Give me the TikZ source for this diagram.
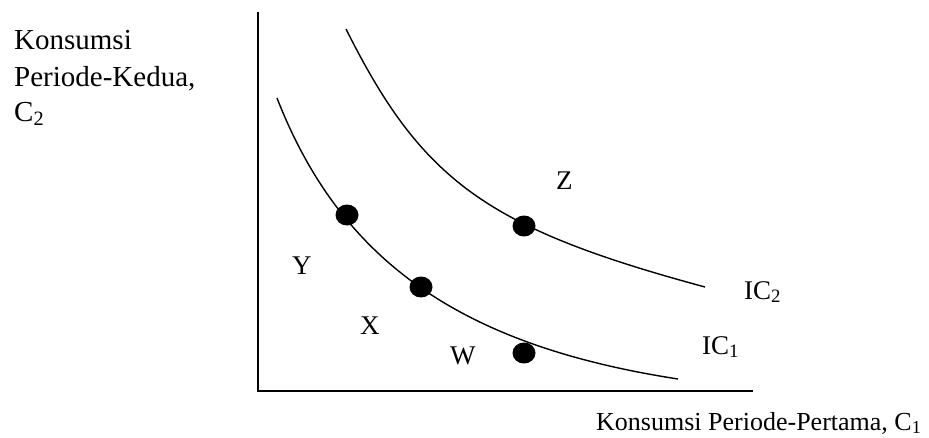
\documentclass[tikz,border=0pt]{standalone}
\usepackage{fontspec}
\setmainfont{Liberation Serif}
\usetikzlibrary{shapes.geometric}
\begin{document}
\begin{tikzpicture}[x=1pt,y=-1pt,
  lbl/.style={anchor=base west,inner sep=0pt,font=\fontsize{27}{31}\selectfont},
  biglbl/.style={anchor=base west,inner sep=0pt,font=\fontsize{29}{33}\selectfont},
  axislbl/.style={anchor=base west,inner sep=0pt,font=\fontsize{26}{30}\selectfont},
  axis/.style={line width=1.8pt},
  curve/.style={line width=1.4pt},
  dot/.style={ellipse,fill=black,minimum width=23pt,minimum height=21pt,inner sep=0pt}]
\useasboundingbox (0,0) rectangle (929,437);
% axes
\coordinate (top) at (258,12);
\coordinate (origin) at (258,391);
\coordinate (xend) at (753,391);
\draw[axis] (top) -- (origin) -- (xend);
% curves
\coordinate (a1) at (277,98);
\coordinate (a2) at (678,379);
\coordinate (b1) at (346,29);
\coordinate (b2) at (705,287);
\draw[curve] (a1) .. controls (340.6,261.3) and (461,345.5) .. (a2);
\draw[curve] (b1) .. controls (422.3,181.5) and (486.9,228) .. (b2);
% dots
\node[dot] (dY) at (347,215) {};
\node[dot] (dX) at (421,287) {};
\node[dot] (dZ) at (524,226) {};
\node[dot] (dW) at (524,353) {};
% labels
\node[lbl] (lY) at (292,274) {Y};
\node[lbl] (lX) at (360,334) {X};
\node[lbl] (lW) at (450,364) {W};
\node[lbl] (lZ) at (556,189) {Z};
\node[lbl] (lIC2) at (744,299) {IC\textsubscript{2}};
\node[lbl] (lIC1) at (702,354) {IC\textsubscript{1}};
\node[biglbl] (ly1) at (14,49) {Konsumsi};
\node[biglbl] (ly2) at (14,86) {Periode-Kedua,};
\node[biglbl] (ly3) at (14,121) {C\textsubscript{2}};
\node[axislbl] (lx) at (596,430) {Konsumsi Periode-Pertama, C\textsubscript{1}};
\end{tikzpicture}
\end{document}
